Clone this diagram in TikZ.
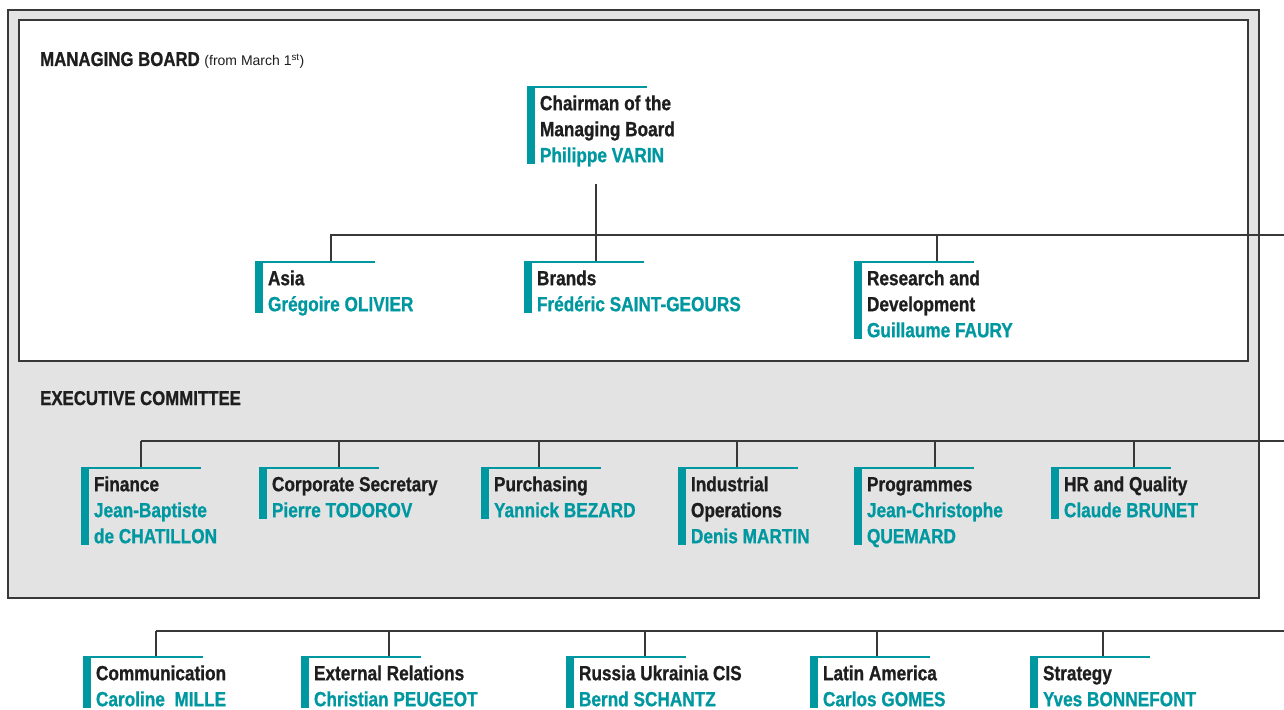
\documentclass[tikz,border=0pt]{standalone}
\usepackage{fontspec}
\setmainfont{Liberation Sans}[FakeStretch=0.84,BoldFeatures={FakeBold=0.9}]
\newfontfamily\widefont{Liberation Sans}
\definecolor{psateal}{HTML}{0098A0}
\definecolor{panelgrey}{HTML}{E3E3E3}
\definecolor{wiregrey}{HTML}{383838}
\definecolor{inkblack}{HTML}{1E1E1E}
\newcommand\nm[1]{\textcolor{psateal}{#1}}
\newcommand\post[1]{\begin{tabular}[b]{@{\hspace{12.8pt}}l@{}}#1\end{tabular}}
\begin{document}
\begin{tikzpicture}[x=1pt,y=-1pt,
    frame/.style={draw=wiregrey,line width=1.3pt},
    wire/.style={draw=wiregrey,line width=1.3pt},
    title/.style={anchor=base west,inner sep=0pt,text=inkblack,
      font=\fontsize{20}{24}\selectfont\bfseries},
    postbox/.style={anchor=north west,inner xsep=0pt,inner ysep=5.8pt,
      text depth=0pt,text=inkblack,
      font=\fontsize{20.5}{26}\selectfont\bfseries,
      path picture={
        \fill[psateal] (path picture bounding box.north west)
          rectangle ([shift={(8,-3.8)}]path picture bounding box.south west);
        \draw[psateal,line width=1.6pt]
          ([shift={(0,0.8)}]path picture bounding box.north west) -- ++(120,0);
      }}]
    \useasboundingbox (0,0) rectangle (1284,709);
    \draw[frame,fill=panelgrey] (8,10) rectangle (1259,598);
    \draw[frame,fill=white] (19,20) rectangle (1248,361);
    \node[title] (mb) at (40,66) {MANAGING BOARD
      {\widefont\mdseries\fontsize{14}{16}\selectfont (from March 1\textsuperscript{st})}};
    \node[title] (ec) at (40,405) {EXECUTIVE COMMITTEE};

    % managing board
    \node[postbox] (chair) at (527,86) {\post{Chairman of the\\Managing Board\\\nm{Philippe VARIN}}};
    \node[postbox] (asia) at (255,261) {\post{Asia\\\nm{Grégoire OLIVIER}}};
    \node[postbox] (brand) at (524,261) {\post{Brands\\\nm{Frédéric SAINT-GEOURS}}};
    \node[postbox] (rnd) at (854,261) {\post{Research and\\Development\\\nm{Guillaume FAURY}}};

    % executive committee
    \node[postbox] (fin) at (81,467) {\post{Finance\\\nm{Jean-Baptiste}\\\nm{de CHATILLON}}};
    \node[postbox] (sec) at (259,467) {\post{Corporate Secretary\\\nm{Pierre TODOROV}}};
    \node[postbox] (pur) at (481,467) {\post{Purchasing\\\nm{Yannick BEZARD}}};
    \node[postbox] (ind) at (678,467) {\post{Industrial\\Operations\\\nm{Denis MARTIN}}};
    \node[postbox] (prog) at (854,467) {\post{Programmes\\\nm{Jean-Christophe}\\\nm{QUEMARD}}};
    \node[postbox] (hr) at (1051,467) {\post{HR and Quality\\\nm{Claude BRUNET}}};

    % outside the committee
    \node[postbox] (com) at (83,656) {\post{Communication\\\nm{Caroline\ \ MILLE}}};
    \node[postbox] (ext) at (301,656) {\post{External Relations\\\nm{Christian PEUGEOT}}};
    \node[postbox] (rus) at (566,656) {\post{Russia Ukrainia CIS\\\nm{Bernd SCHANTZ}}};
    \node[postbox] (lat) at (810,656) {\post{Latin America\\\nm{Carlos GOMES}}};
    \node[postbox] (str) at (1030,656) {\post{Strategy\\\nm{Yves BONNEFONT}}};

    % buses
    \coordinate (mbus) at (330,235);  \coordinate (mend) at (1284,235);
    \coordinate (ebus) at (141,441);  \coordinate (eend) at (1284,441);
    \coordinate (obus) at (156,631);  \coordinate (oend) at (1284,631);
    \draw[wire] (mbus) -- (mend);
    \draw[wire] (ebus) -- (eend);
    \draw[wire] (obus) -- (oend);
    \draw[wire] (chair.south west) ++(69,16) coordinate (c) -- (c |- mbus);
    \foreach \n/\dx in {asia/76,brand/72,rnd/83}
      \draw[wire] (\n.north west) ++(\dx,0) coordinate (t) -- (t |- mbus);
    \foreach \n/\dx in {fin/60,sec/80,pur/58,ind/59,prog/81,hr/83}
      \draw[wire] (\n.north west) ++(\dx,0) coordinate (t) -- (t |- ebus);
    \foreach \n/\dx in {com/73,ext/88,rus/79,lat/67,str/73}
      \draw[wire] (\n.north west) ++(\dx,0) coordinate (t) -- (t |- obus);
\end{tikzpicture}
\end{document}
